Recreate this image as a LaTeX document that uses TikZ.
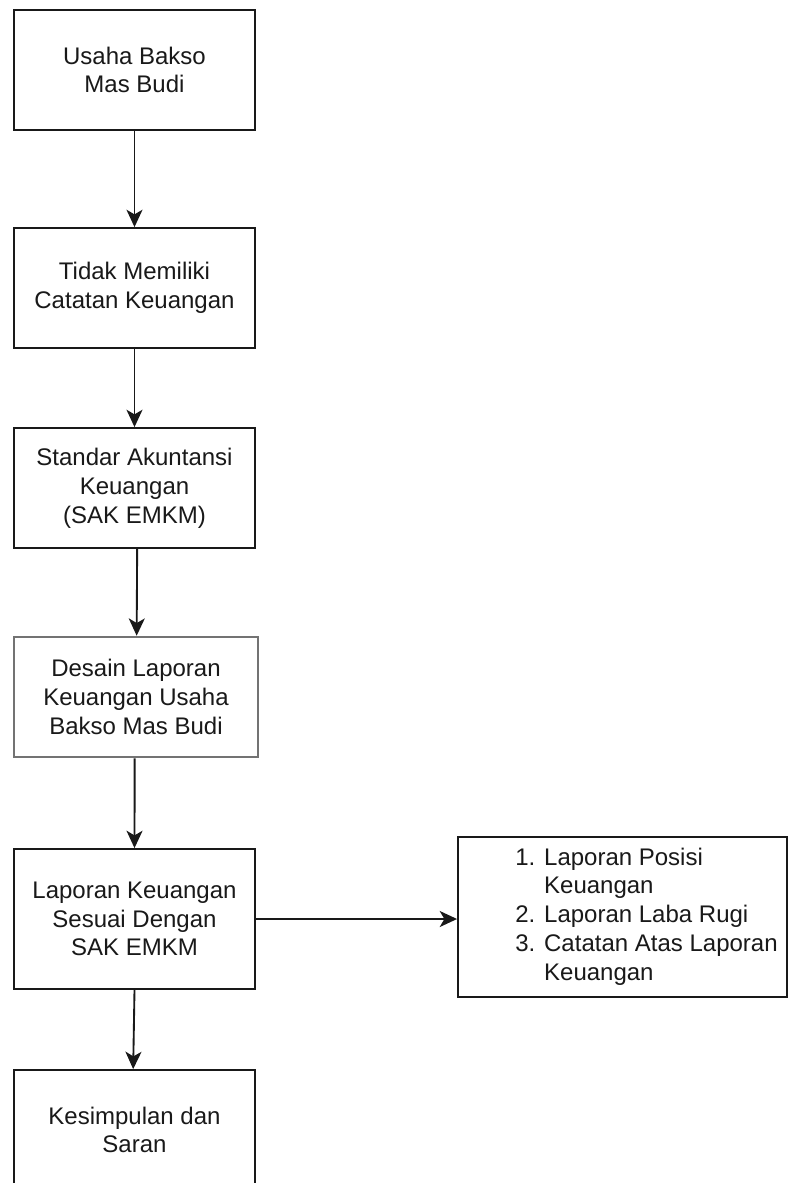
\documentclass[tikz,border=0pt]{standalone}
\usepackage{fontspec}
\setmainfont{Liberation Sans}
\usetikzlibrary{arrows.meta}
\begin{document}
\begin{tikzpicture}[x=0.75pt,y=-0.75pt,
  box/.style={draw=black!90, line width=1.4pt, fill=white, rectangle, inner sep=0pt,
    minimum width=180.75pt, minimum height=90pt, align=center, text=black!90,
    font=\fontsize{18}{21.6}\selectfont},
  graybox/.style={box, draw=black!55, line width=1.9pt},
  conn/.style={draw=black!90, line width=1.4pt, -{Stealth[length=13pt,width=12pt,inset=3.5pt]}},
  txt/.style={inner sep=0pt, text=black!90, font=\fontsize{18}{21.6}\selectfont, align=left}
]
\clip (0,0) rectangle (788,1183);
\fill[white] (0,0) rectangle (788,1183);
\node[box] (b1) at (134.5,70) {Usaha Bakso\\Mas Budi};
\node[box] (b2) at (134.5,288) {Tidak Memiliki\\Catatan Keuangan};
\node[box] (b3) at (134.5,488) {Standar Akuntansi\\Keuangan\\(SAK EMKM)};
\node[graybox, minimum width=183pt] (b4) at (136,697) {Desain Laporan\\Keuangan Usaha\\Bakso Mas Budi};
\node[box, minimum height=105pt] (b5) at (134.5,919) {Laporan Keuangan\\Sesuai Dengan\\SAK EMKM};
\node[box] (b6) at (134.5,1130) {Kesimpulan dan\\Saran};
\node[box, minimum width=246.75pt, minimum height=120pt] (r) at (622.5,917) {};
\node[txt, anchor=west] (rt) at (515,917) {%
  \begin{tabular}{@{}l@{ }l@{}}
  1. & Laporan Posisi\\
     & Keuangan\\
  2. & Laporan Laba Rugi\\
  3. & Catatan Atas Laporan\\
     & Keuangan
  \end{tabular}};
\draw[conn] (b1.south) -- (b2.north);
\draw[conn] (b2.south) -- (b3.north);
\draw[conn] ([xshift=2pt]b3.south) -- ([xshift=0.5pt]b4.north);
\draw[conn] ([xshift=-1pt]b4.south) -- (b5.north);
\draw[conn] (b5.south) -- ([xshift=-1pt]b6.north);
\draw[conn] (b5.east) -- (b5.east -| r.west);
\end{tikzpicture}
\end{document}
